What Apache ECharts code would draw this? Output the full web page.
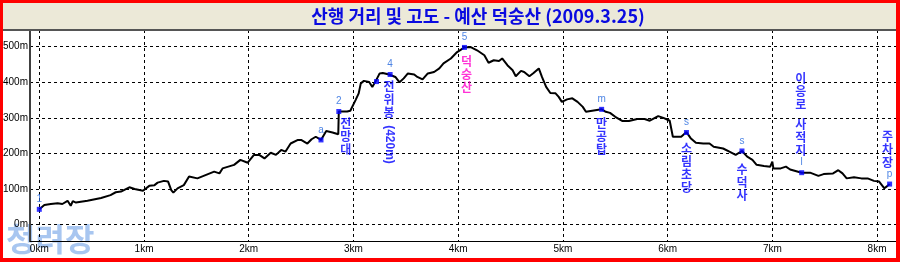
<!DOCTYPE html>
<html><head><meta charset="utf-8">
<script src="https://cdn.jsdelivr.net/npm/echarts@6/dist/echarts.min.js"></script>
<style>html,body{margin:0;padding:0;background:#fff}#c{width:900px;height:262px}</style>
</head><body><div id="c"></div>
<script>
// ---------- data ----------
const titleText = '산행 거리 및 고도 - 예산 덕숭산 (2009.3.25)';
const watermarkText = '청려장';
const xTicks = [0, 1, 2, 3, 4, 5, 6, 7, 8];
const yTicks = [0, 100, 200, 300, 400, 500];

const profileKm = [
  0, 0.048, 0.11, 0.175, 0.22, 0.27, 0.30, 0.32, 0.35, 0.46,
  0.59, 0.68, 0.73, 0.78, 0.86, 0.91, 0.99, 1.05, 1.10, 1.13,
  1.19, 1.23, 1.26, 1.28, 1.32, 1.38, 1.43, 1.51, 1.67, 1.72,
  1.75, 1.86, 1.92, 1.99, 2.05, 2.10, 2.15, 2.21, 2.26, 2.31,
  2.35, 2.40, 2.47, 2.50, 2.56, 2.60, 2.64, 2.69, 2.74, 2.80,
  2.855, 2.86, 2.94, 2.97, 3.02, 3.05, 3.07, 3.10, 3.15, 3.18,
  3.21, 3.25, 3.28, 3.34, 3.40, 3.44, 3.48, 3.52, 3.58, 3.61,
  3.66, 3.71, 3.77, 3.82, 3.86, 3.93, 3.99, 4.06, 4.12, 4.18,
  4.25, 4.29, 4.34, 4.39, 4.42, 4.47, 4.52, 4.55, 4.60, 4.63,
  4.68, 4.72, 4.77, 4.80, 4.84, 4.88, 4.93, 4.96, 4.99, 5.04,
  5.09, 5.14, 5.19, 5.22, 5.28, 5.37, 5.41, 5.45, 5.50, 5.57,
  5.63, 5.71, 5.78, 5.83, 5.91, 5.96, 6.02, 6.05, 6.13, 6.18,
  6.22, 6.27, 6.34, 6.40, 6.44, 6.53, 6.59, 6.65, 6.71, 6.76,
  6.81, 6.85, 6.92, 6.98, 7.00, 7.01, 7.08, 7.13, 7.17, 7.28,
  7.36, 7.44, 7.49, 7.58, 7.63, 7.67, 7.71, 7.78, 7.85, 7.91,
  7.97, 8.02, 8.07, 8.10, 8.12
];
const profileElev = [
  43, 55, 58, 60, 58, 67, 53, 66, 62, 67,
  75, 83, 91, 93, 105, 100, 95, 109, 111, 118,
  123, 121, 97, 90, 102, 111, 135, 130, 149, 144,
  158, 168, 182, 174, 196, 196, 186, 202, 196, 210,
  205, 228, 238, 238, 228, 240, 247, 238, 263, 259,
  254, 318, 318, 320, 350, 369, 397, 404, 401, 387,
  402, 425, 426, 422, 415, 400, 411, 425, 422, 415,
  408, 425, 429, 439, 453, 467, 485, 498, 499, 490,
  476, 455, 462, 460, 467, 448, 434, 417, 432, 429,
  417, 426, 439, 415, 387, 370, 369, 359, 345, 352,
  355, 345, 331, 317, 320, 324, 317, 314, 303, 291,
  291, 297, 297, 292, 305, 300, 292, 247, 247, 260,
  243, 230, 228, 228, 219, 214, 205, 196, 207, 191,
  182, 168, 165, 163, 177, 158, 158, 163, 155, 146,
  146, 137, 142, 144, 153, 144, 130, 133, 130, 130,
  123, 121, 102, 109, 114
];

const wpKm   = [0, 2.69, 2.86, 3.22, 3.35, 4.06, 5.37, 6.18, 6.71, 7.28, 8.12];
const wpElev = [43, 238, 318, 402, 422, 498, 324, 259, 207, 146, 114];
const wpCode = ['1', 'a', '2', '', '4', '5', 'm', 's', 's', 'l', 'p'];
const wpName = ['', '', '전망대', '', '전위봉 (420m)', '덕숭산', '만공탑', '소림초당', '수덕사', '이응로 사적지', '주차장'];

// ---------- styling / layout (not data) ----------
const nameOffset = [null, null, [7, 25], null, [-1, 25], [2, 27], [0, 27], [0, 35], [0, 31], [-1, -58], [-2, -35]];
const parenOffset = [70, 1];   // applied in the rotated label frame
const nameColor = ['', '', '#0000FF', '', '#0000FF', '#FF00CC', '#0000FF', '#0000FF', '#0000FF', '#0000FF', '#0000FF'];

const CJK = '"Noto Sans CJK KR", sans-serif';
const LAT = '"Liberation Sans", Arial, sans-serif';

function verticalText(str) {
  const words = str.split(' ');
  const lines = [];
  words.forEach((w, wi) => {
    if (wi > 0) lines.push('{g| }');
    w.split('').forEach(ch => lines.push('{c|' + ch + '}'));
  });
  return lines.join('\n');
}

const lineData = profileKm.map((k, i) => [k, profileElev[i]]);
const wpData = wpKm.map((k, i) => ({ value: [k, wpElev[i]], code: wpCode[i] }));

const nameItems = [];
wpName.forEach((n, i) => {
  if (!n) return;
  let main = n, paren = null;
  const m = n.match(/^(.*?)\s*(\(.*\))$/);
  if (m) { main = m[1]; paren = m[2]; }
  nameItems.push({
    value: [wpKm[i], wpElev[i]],
    label: {
      formatter: verticalText(main),
      offset: nameOffset[i],
      rich: {
        c: { fontFamily: CJK, fontSize: 12, fontWeight: 'bold', lineHeight: 13, color: nameColor[i], align: 'center' },
        g: { fontSize: 6, lineHeight: 7 }
      }
    }
  });
  if (paren) {
    nameItems.push({
      value: [wpKm[i], wpElev[i]],
      label: {
        formatter: paren, rotate: -90, offset: parenOffset,
        fontFamily: LAT, fontSize: 12, fontWeight: 'bold', color: nameColor[i]
      }
    });
  }
});

const chart = echarts.init(document.getElementById('c'), null, { renderer: 'canvas' });
chart.setOption({
  animation: false,
  backgroundColor: '#ffffff',
  grid: { left: 29, right: 4, top: 30, bottom: 21, containLabel: false },
  xAxis: {
    type: 'value', min: -0.0887, max: 8.181,
    axisLine: { show: true, onZero: false, lineStyle: { color: '#000', width: 1 } },
    axisTick: { show: false, customValues: xTicks },
    axisLabel: { customValues: xTicks, formatter: '{value}km', fontFamily: LAT, fontSize: 10, color: '#000', margin: 3 },
    splitLine: { show: true, lineStyle: { color: '#000', type: [3, 3], width: 1 } }
  },
  yAxis: {
    type: 'value', min: -46, max: 547,
    axisLine: { show: true, onZero: false, lineStyle: { color: '#404040', width: 2 } },
    axisTick: { show: false, customValues: yTicks },
    axisLabel: { customValues: yTicks, formatter: '{value}m', fontFamily: LAT, fontSize: 10, color: '#000', margin: 2, padding: [0, 0, 3, 0] },
    splitLine: { show: true, lineStyle: { color: '#000', type: [3, 3], width: 1 } }
  },
  graphic: [
    { type: 'text', left: 6, top: 223, z: 0, silent: true,
      style: { text: watermarkText, font: 'bold 32px ' + CJK, fill: '#A8C6F0' } },
    { type: 'rect', shape: { x: 0, y: 0, width: 900, height: 29 }, style: { fill: '#ECE9D8' }, z: 100 },
    { type: 'rect', shape: { x: 0, y: 29, width: 900, height: 2 }, style: { fill: '#555555' }, z: 100 },
    { type: 'text', x: 478, y: 16, z: 101,
      style: { text: titleText, font: 'bold 18px ' + CJK, fill: '#0A0AE0', textAlign: 'center', textVerticalAlign: 'middle' } },
    { type: 'rect', shape: { x: 0, y: 0, width: 900, height: 3 }, style: { fill: '#FF0000' }, z: 110 },
    { type: 'rect', shape: { x: 0, y: 0, width: 3, height: 262 }, style: { fill: '#FF0000' }, z: 110 },
    { type: 'rect', shape: { x: 896, y: 0, width: 4, height: 262 }, style: { fill: '#FF0000' }, z: 110 },
    { type: 'rect', shape: { x: 0, y: 258, width: 900, height: 4 }, style: { fill: '#FF0000' }, z: 110 }
  ],
  series: [
    {
      type: 'line', data: lineData, showSymbol: false, symbol: 'none',
      lineStyle: { color: '#000', width: 2 }, z: 3
    },
    {
      type: 'scatter', data: wpData, symbol: 'rect', symbolSize: 5,
      itemStyle: { color: '#0000FF' }, z: 4,
      label: {
        show: true, position: 'inside', offset: [0, -10],
        formatter: p => p.data.code, fontFamily: LAT, fontSize: 10, color: '#2266DD'
      }
    },
    {
      type: 'scatter', data: nameItems, symbolSize: 1,
      itemStyle: { color: 'rgba(0,0,0,0)' }, z: 5,
      label: { show: true, position: 'inside', align: 'center', verticalAlign: 'middle' }
    }
  ]
});
</script>
</body></html>
